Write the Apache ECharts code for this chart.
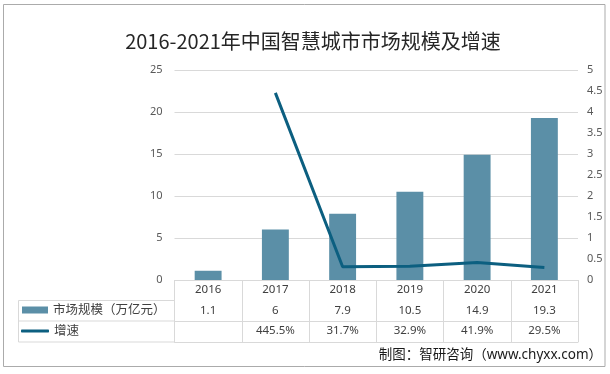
<!DOCTYPE html>
<html>
<head>
<meta charset="utf-8">
<script src="https://cdn.jsdelivr.net/npm/echarts@6/dist/echarts.min.js"></script>
<style>
html,body{margin:0;padding:0;background:#fff;}
#chart{width:610px;height:374px;}
</style>
</head>
<body>
<div id="chart"></div>
<script>
const years = ['2016', '2017', '2018', '2019', '2020', '2021'];
const marketSize = [1.1, 6, 7.9, 10.5, 14.9, 19.3];
const growthPct = [null, 445.5, 31.7, 32.9, 41.9, 29.5];
const leftTicks = { min: 0, max: 25, interval: 5 };
const rightTicks = { min: 0, max: 5, interval: 0.5 };
const titleText = '2016-2021年中国智慧城市市场规模及增速';
const sourceText = '制图：智研咨询（www.chyxx.com）';
const barName = '市场规模（万亿元）';
const lineName = '增速';

const FONT = "'Noto Sans', 'Noto Sans CJK SC', sans-serif";
const TITLE_FONT = "'Noto Sans CJK SC', sans-serif";
const BAR_COLOR = '#5b8fa7';
const LINE_COLOR = '#0c5f80';
const TABLE_LINE = '#d9d9d9';
const TEXT = '#404040';

const sizeLabels = marketSize.map(v => String(v));
const growthLabels = growthPct.map(v => v == null ? '' : v.toFixed(1) + '%');
const growthRatio = growthPct.map(v => v == null ? null : v / 100);

function rowAxis(data, offset, showLabel) {
  return {
    type: 'category', gridIndex: 0, position: 'bottom', offset: offset,
    data: data, boundaryGap: true,
    axisLine: { show: true, lineStyle: { color: TABLE_LINE, width: 1 } },
    axisTick: { show: false },
    splitLine: { show: false },
    axisLabel: { show: showLabel, interval: 0, margin: 10, verticalAlign: 'middle',
      color: TEXT, fontSize: 11.5, fontFamily: FONT }
  };
}

const chart = echarts.init(document.getElementById('chart'), null, { renderer: 'canvas' });
const x0 = rowAxis(years, 0, true);
x0.axisTick = { show: true, interval: 0, length: 62, inside: false, alignWithLabel: false,
  lineStyle: { color: TABLE_LINE, width: 1 } };

chart.setOption({
  animation: false,
  backgroundColor: '#ffffff',
  textStyle: { fontFamily: FONT },
  grid: { left: 174.5, right: 32, top: 70, bottom: 94, containLabel: false },
  legend: [
    { data: [barName], left: 22, top: 303, padding: 0, icon: 'rect', itemWidth: 26, itemHeight: 7,
      textStyle: { fontSize: 12.5, color: TEXT, fontFamily: FONT, lineHeight: 14 } },
    { data: [lineName], left: 21, top: 324, padding: 0, icon: 'roundRect', itemWidth: 28, itemHeight: 3,
      textStyle: { fontSize: 12.5, color: TEXT, fontFamily: FONT, lineHeight: 14 } }
  ],
  xAxis: [
    x0,
    rowAxis(sizeLabels, 20.5, true),
    rowAxis(growthLabels, 41, true),
    rowAxis(years, 62, false)
  ],
  yAxis: [
    { type: 'value', min: leftTicks.min, max: leftTicks.max, interval: leftTicks.interval,
      axisLine: { show: false }, axisTick: { show: false },
      axisLabel: { color: '#595959', fontSize: 11, margin: 12, fontFamily: FONT },
      splitLine: { show: true, lineStyle: { color: TABLE_LINE, width: 1 } } },
    { type: 'value', position: 'right', min: rightTicks.min, max: rightTicks.max, interval: rightTicks.interval,
      axisLine: { show: false }, axisTick: { show: false },
      axisLabel: { color: '#595959', fontSize: 11, margin: 9, fontFamily: FONT },
      splitLine: { show: false } }
  ],
  graphic: [
    { type: 'rect', shape: { x: 3.5, y: 4.5, width: 601.5, height: 362 },
      style: { fill: 'none', stroke: '#ababab', lineWidth: 1 }, z: 100 },
    { type: 'text', x: 313, y: 41,
      style: { text: titleText, align: 'center', verticalAlign: 'middle',
        fontSize: 20, fontFamily: TITLE_FONT, fill: '#262626' } },
    { type: 'text', x: 602, y: 355,
      style: { text: sourceText, align: 'right', verticalAlign: 'middle',
        fontSize: 13.5, fontFamily: FONT, fill: '#1a1a1a' } },
    { type: 'rect', shape: { x: 18.5, y: 300.5, width: 156, height: 41.5 },
      style: { fill: 'none', stroke: TABLE_LINE, lineWidth: 1 } },
    { type: 'line', shape: { x1: 18.5, y1: 321, x2: 174.5, y2: 321 },
      style: { stroke: TABLE_LINE, lineWidth: 1 } }
  ],
  series: [
    { name: barName, type: 'bar', xAxisIndex: 0, yAxisIndex: 0, data: marketSize,
      barWidth: '40%', itemStyle: { color: BAR_COLOR } },
    { name: lineName, type: 'line', xAxisIndex: 0, yAxisIndex: 1, data: growthRatio,
      symbol: 'none', showSymbol: false, connectNulls: false,
      lineStyle: { color: LINE_COLOR, width: 3 }, itemStyle: { color: LINE_COLOR } }
  ]
});
</script>
</body>
</html>
